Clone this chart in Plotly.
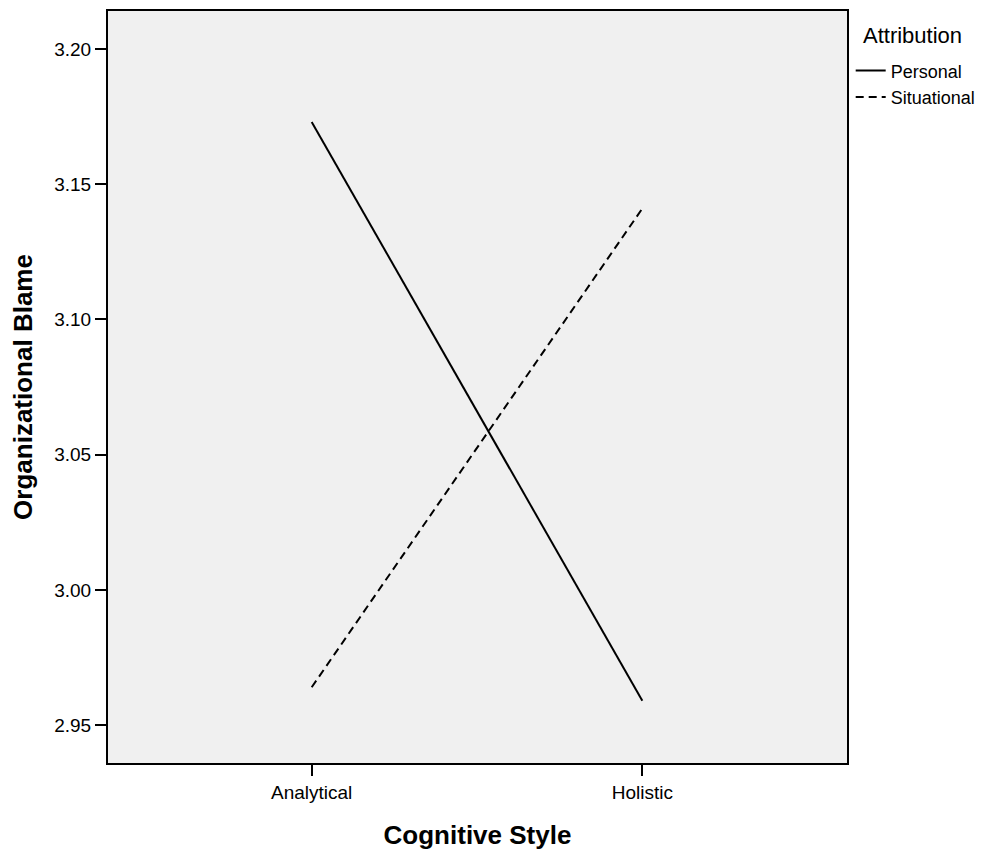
import plotly.graph_objects as go

categories = ["Analytical", "Holistic"]
personal = [3.173, 2.959]
situational = [2.964, 3.141]
y_ticks = [2.95, 3.00, 3.05, 3.10, 3.15, 3.20]
y_tick_labels = ["2.95", "3.00", "3.05", "3.10", "3.15", "3.20"]

fig = go.Figure()
fig.add_trace(go.Scatter(x=categories, y=personal, mode="lines", name="Personal",
                         line=dict(color="black", width=2)))
fig.add_trace(go.Scatter(x=categories, y=situational, mode="lines", name="Situational",
                         line=dict(color="black", width=2, dash="8px,5px")))

font = "Liberation Sans, Arial, sans-serif"
# page body has an 8px margin, so the figure is slightly smaller than the window
fig.update_layout(
    width=977, height=842,
    margin=dict(l=100, r=138, t=1, b=87),
    paper_bgcolor="white", plot_bgcolor="#f0f0f0",
    font=dict(family=font, color="black", size=18),
    showlegend=True,
    legend=dict(
        x=1.005, xanchor="left", y=0.945, yanchor="top",
        font=dict(size=18), bgcolor="rgba(0,0,0,0)",
        itemwidth=30, tracegroupgap=0,
    ),
    annotations=[dict(text="Attribution", x=1.0, xref="paper", xanchor="left", xshift=14,
                      y=1.0, yref="paper", yanchor="top", yshift=-10,
                      showarrow=False, font=dict(size=22))],
    xaxis=dict(
        type="category", range=[-0.616, 1.619],
        showline=True, linecolor="black", linewidth=2, mirror=True,
        ticks="outside", ticklen=11, tickwidth=2, tickcolor="black",
        showgrid=False, zeroline=False,
        tickfont=dict(size=19),
        title=dict(text="Cognitive Style", font=dict(size=26, weight="bold"), standoff=24),
    ),
    yaxis=dict(
        range=[2.936, 3.214],
        tickvals=y_ticks, ticktext=y_tick_labels,
        showline=True, linecolor="black", linewidth=2, mirror=True,
        ticks="outside", ticklen=11, tickwidth=2, tickcolor="black",
        showgrid=False, zeroline=False,
        tickfont=dict(size=19), ticklabelstandoff=0,
        title=dict(text="Organizational Blame", font=dict(size=26, weight="bold"), standoff=18),
    ),
)

fig.write_html("out.html")
